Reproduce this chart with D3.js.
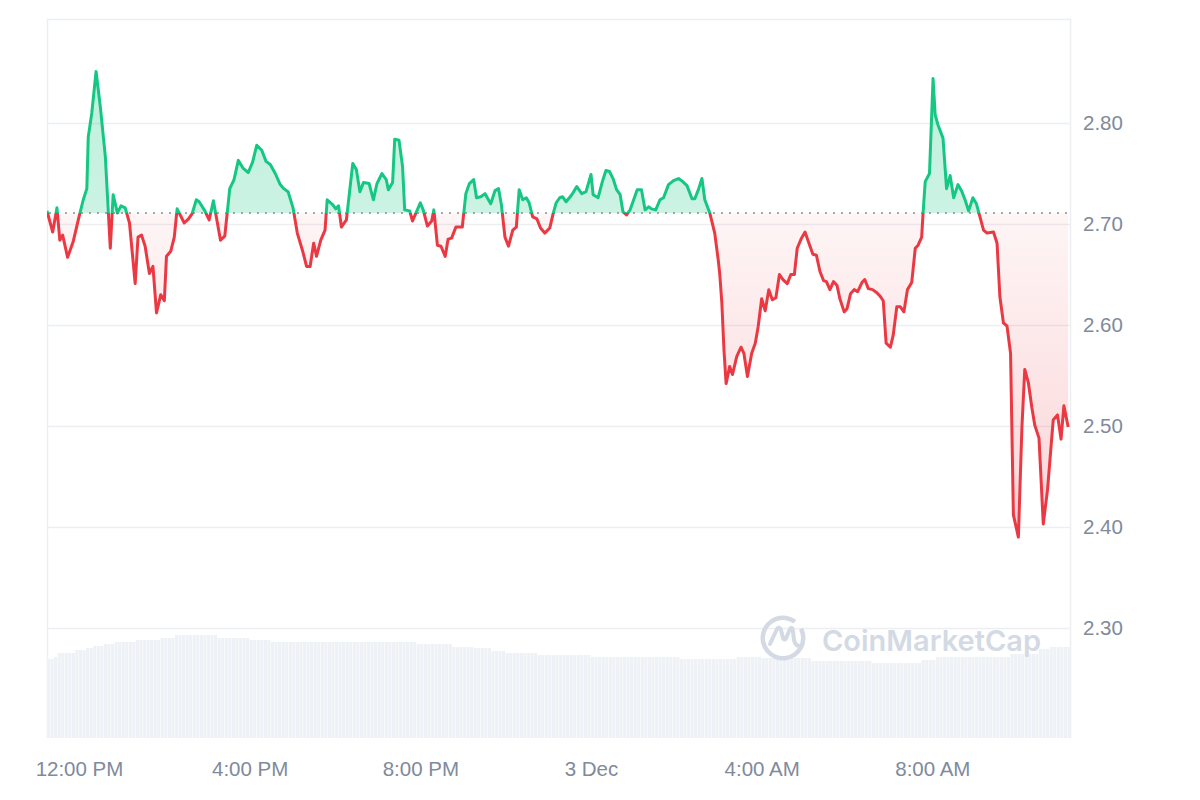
<!DOCTYPE html>
<html>
<head>
<meta charset="utf-8">
<script src="https://cdn.jsdelivr.net/npm/d3@7"></script>
<style>
  html, body { margin: 0; padding: 0; background: #fff; }
  #chart { width: 1200px; height: 800px; }
  .axis-label { font-family: "Liberation Sans", Arial, sans-serif; font-size: 20.5px; fill: #808a9d; }
</style>
</head>
<body>
<div id="chart"></div>
<script>
  // minutes after 11:15 AM, 2 Dec
  const priceMinutes = [
    0, 8, 14, 18, 22, 29, 37, 45, 51, 56, 58, 63, 69, 75, 82, 89, 93, 99, 104, 110,
    116, 124, 128, 133, 138, 144, 149, 154, 160, 165, 168, 174, 179, 183, 193, 199, 204, 210, 214, 222,
    228, 234, 244, 250, 257, 263, 269, 276, 283, 289, 295, 302, 308, 314, 321, 328, 333, 339, 346, 352,
    360, 365, 370, 375, 379, 385, 391, 394, 402, 406, 410, 414, 421, 430, 435, 440, 445, 453, 459, 464,
    471, 477, 480, 486, 489, 495, 500, 503, 510, 514, 525, 529, 535, 541, 544, 549, 554, 560, 564, 569,
    575, 584, 589, 594, 600, 604, 610, 616, 624, 630, 635, 639, 644, 649, 655, 660, 664, 669, 674, 678,
    683, 689, 694, 700, 707, 712, 716, 721, 725, 730, 738, 745, 752, 758, 765, 768, 775, 781, 786, 791,
    796, 801, 806, 810, 815, 820, 825, 830, 836, 841, 846, 850, 856, 862, 867, 874, 881, 888, 894, 900,
    907, 911, 916, 921, 925, 932, 939, 944, 946, 949, 952, 955, 960, 964, 970, 976, 980, 985, 991, 996,
    1000, 1005, 1010, 1015, 1020, 1025, 1030, 1035, 1041, 1046, 1051, 1055, 1061, 1066, 1071, 1077, 1082, 1087, 1092, 1096,
    1101, 1106, 1111, 1115, 1121, 1125, 1130, 1135, 1140, 1146, 1150, 1155, 1161, 1167, 1171, 1176, 1180, 1186, 1190, 1195,
    1200, 1205, 1210, 1216, 1221, 1225, 1230, 1232, 1235, 1241, 1246, 1249, 1253, 1260, 1265, 1270, 1275, 1281, 1286, 1291,
    1296, 1302, 1307, 1312, 1317, 1322, 1331, 1336, 1340, 1345, 1350, 1355, 1359, 1366, 1371, 1375, 1380, 1385, 1389, 1395,
    1401, 1407, 1415, 1421, 1426, 1430, 1436
  ];

  const prices = [
    2.713, 2.692, 2.716, 2.684, 2.689, 2.667, 2.683, 2.707, 2.724, 2.735, 2.786, 2.810, 2.851, 2.816, 2.767, 2.676, 2.729, 2.711, 2.718, 2.716,
    2.701, 2.641, 2.687, 2.689, 2.678, 2.651, 2.658, 2.612, 2.630, 2.624, 2.668, 2.673, 2.687, 2.715, 2.701, 2.705, 2.710, 2.724, 2.722, 2.713,
    2.704, 2.723, 2.684, 2.688, 2.735, 2.744, 2.763, 2.755, 2.751, 2.761, 2.778, 2.773, 2.762, 2.759, 2.750, 2.739, 2.735, 2.732, 2.716, 2.691,
    2.672, 2.658, 2.658, 2.681, 2.668, 2.684, 2.694, 2.724, 2.719, 2.715, 2.718, 2.697, 2.704, 2.760, 2.754, 2.732, 2.741, 2.740, 2.724, 2.740,
    2.750, 2.744, 2.734, 2.741, 2.784, 2.783, 2.757, 2.714, 2.713, 2.703, 2.721, 2.714, 2.698, 2.703, 2.714, 2.679, 2.678, 2.668, 2.685, 2.686,
    2.697, 2.697, 2.730, 2.740, 2.744, 2.726, 2.727, 2.730, 2.720, 2.733, 2.735, 2.719, 2.687, 2.678, 2.694, 2.697, 2.734, 2.724, 2.726, 2.721,
    2.707, 2.705, 2.696, 2.691, 2.696, 2.711, 2.721, 2.726, 2.727, 2.722, 2.729, 2.737, 2.730, 2.732, 2.749, 2.729, 2.726, 2.742, 2.753, 2.752,
    2.745, 2.734, 2.729, 2.712, 2.709, 2.714, 2.724, 2.734, 2.734, 2.714, 2.717, 2.715, 2.714, 2.724, 2.726, 2.739, 2.743, 2.745, 2.742, 2.738,
    2.725, 2.725, 2.734, 2.745, 2.724, 2.711, 2.691, 2.664, 2.651, 2.622, 2.575, 2.542, 2.559, 2.551, 2.569, 2.578, 2.572, 2.549, 2.572, 2.582,
    2.598, 2.626, 2.614, 2.635, 2.625, 2.627, 2.650, 2.645, 2.641, 2.650, 2.650, 2.676, 2.686, 2.692, 2.682, 2.670, 2.669, 2.653, 2.644, 2.643,
    2.635, 2.643, 2.639, 2.626, 2.613, 2.616, 2.631, 2.635, 2.633, 2.642, 2.645, 2.636, 2.635, 2.632, 2.629, 2.624, 2.582, 2.578, 2.590, 2.618,
    2.618, 2.613, 2.635, 2.642, 2.676, 2.679, 2.687, 2.711, 2.742, 2.750, 2.844, 2.808, 2.798, 2.785, 2.735, 2.748, 2.726, 2.739, 2.733, 2.724,
    2.713, 2.726, 2.720, 2.707, 2.694, 2.691, 2.692, 2.681, 2.628, 2.602, 2.599, 2.572, 2.412, 2.390, 2.499, 2.556, 2.543, 2.518, 2.501, 2.488,
    2.403, 2.437, 2.506, 2.511, 2.487, 2.520, 2.499
  ];

  // one bar per 5 minutes, relative volume
  const volumes = [
    79, 79, 81, 85, 85, 85, 85, 85, 88, 88, 88, 90, 90, 92, 92, 92, 94, 94, 94, 96, 96, 96, 96, 96,
    96, 98, 98, 98, 98, 98, 98, 98, 100, 100, 100, 100, 103, 103, 103, 103, 103, 103, 103, 103, 103, 103, 103, 103,
    100, 100, 100, 100, 100, 100, 100, 100, 100, 98, 98, 98, 98, 98, 98, 96, 96, 96, 96, 96, 96, 96, 96, 96,
    96, 96, 96, 96, 96, 96, 96, 96, 96, 96, 96, 96, 96, 96, 96, 96, 96, 96, 96, 96, 96, 96, 96, 96,
    96, 96, 96, 96, 96, 96, 96, 96, 94, 94, 94, 94, 94, 94, 94, 94, 94, 94, 91, 91, 91, 91, 91, 91,
    90, 90, 90, 90, 90, 87, 87, 87, 87, 85, 85, 85, 85, 85, 85, 85, 85, 85, 83, 83, 83, 83, 83, 83,
    83, 83, 83, 83, 83, 83, 83, 83, 83, 81, 81, 81, 81, 81, 81, 81, 81, 81, 81, 81, 81, 81, 81, 81,
    81, 81, 81, 81, 81, 81, 81, 81, 81, 81, 79, 79, 79, 79, 79, 79, 79, 79, 79, 79, 79, 79, 79, 79,
    79, 79, 81, 81, 81, 81, 81, 81, 81, 80, 80, 80, 80, 80, 80, 80, 80, 80, 80, 80, 80, 80, 80, 77,
    77, 77, 77, 77, 77, 77, 77, 77, 77, 77, 77, 77, 77, 77, 77, 77, 75, 75, 75, 75, 75, 75, 75, 75,
    75, 75, 75, 75, 75, 75, 78, 78, 78, 78, 81, 81, 81, 81, 81, 81, 81, 81, 81, 81, 81, 81, 81, 81,
    81, 81, 81, 81, 81, 81, 81, 84, 84, 84, 84, 84, 84, 84, 84, 89, 89, 89, 91, 91, 91, 91, 91, 91
  ];

  const yTicks = [2.30, 2.40, 2.50, 2.60, 2.70, 2.80];
  const xTickHours = [12, 16, 20, 24, 28, 32];
  const xTickLabels = ['12:00 PM', '4:00 PM', '8:00 PM', '3 Dec', '4:00 AM', '8:00 AM'];
  const openPrice = 2.711;

  (() => {
    const width = 1200;
    const height = 800;
    const plotLeft = 47;
    const plotRight = 1071;
    const plotTop = 19;
    const plotBottom = 738;
    const green = '#16c784';
    const red = '#ea3943';
    const gridColor = '#eceef1';

    const startTime = new Date(2024, 11, 2, 11, 15);
    const endTime = new Date(startTime.getTime() + 24 * 3600 * 1000);
    const minuteToDate = m => new Date(startTime.getTime() + m * 60000);

    const series = priceMinutes.map((m, i) => ({ date: minuteToDate(m), price: prices[i] }));

    const x = d3.scaleTime().domain([startTime, endTime]).range([plotLeft, plotRight]);
    const y = d3.scaleLinear().domain([2.30, 2.80]).range([628, 123]);
    const yVol = d3.scaleLinear().domain([0, 100]).range([plotBottom, plotBottom - 100]);

    const svg = d3.select('#chart').append('svg')
      .attr('width', width)
      .attr('height', height);

    const defs = svg.append('defs');
    const baseY = y(openPrice);

    defs.append('clipPath').attr('id', 'clip-above')
      .append('rect').attr('x', plotLeft).attr('y', 0).attr('width', plotRight - plotLeft).attr('height', baseY);
    defs.append('clipPath').attr('id', 'clip-below')
      .append('rect').attr('x', plotLeft).attr('y', baseY).attr('width', plotRight - plotLeft).attr('height', height - baseY);

    const gUp = defs.append('linearGradient').attr('id', 'grad-up')
      .attr('gradientUnits', 'userSpaceOnUse')
      .attr('x1', 0).attr('x2', 0).attr('y1', y(2.85)).attr('y2', baseY);
    gUp.append('stop').attr('offset', '0%').attr('stop-color', green).attr('stop-opacity', 0.28);
    gUp.append('stop').attr('offset', '100%').attr('stop-color', green).attr('stop-opacity', 0.22);

    const gDown = defs.append('linearGradient').attr('id', 'grad-down')
      .attr('gradientUnits', 'userSpaceOnUse')
      .attr('x1', 0).attr('x2', 0).attr('y1', baseY).attr('y2', y(2.38));
    gDown.append('stop').attr('offset', '0%').attr('stop-color', red).attr('stop-opacity', 0.05);
    gDown.append('stop').attr('offset', '100%').attr('stop-color', red).attr('stop-opacity', 0.22);

    // frame
    svg.append('line').attr('x1', plotLeft).attr('x2', plotRight).attr('y1', plotTop + 0.5).attr('y2', plotTop + 0.5)
      .attr('stroke', gridColor).attr('stroke-width', 1.5);
    svg.append('line').attr('x1', plotLeft + 0.5).attr('x2', plotLeft + 0.5).attr('y1', plotTop).attr('y2', plotBottom)
      .attr('stroke', gridColor).attr('stroke-width', 1.5);
    svg.append('line').attr('x1', plotRight - 0.5).attr('x2', plotRight - 0.5).attr('y1', plotTop).attr('y2', plotBottom)
      .attr('stroke', gridColor).attr('stroke-width', 1.5);

    // grid
    svg.append('g').selectAll('line')
      .data(yTicks)
      .join('line')
      .attr('x1', plotLeft)
      .attr('x2', plotRight)
      .attr('y1', d => Math.round(y(d)) + 0.5)
      .attr('y2', d => Math.round(y(d)) + 0.5)
      .attr('stroke', gridColor)
      .attr('stroke-width', 1.5);

    // volume bars
    const step = (plotRight - plotLeft) / volumes.length;
    svg.append('g').selectAll('rect')
      .data(volumes)
      .join('rect')
      .attr('x', (d, i) => x(minuteToDate(i * 5)))
      .attr('width', step - 0.5)
      .attr('y', d => yVol(d))
      .attr('height', d => plotBottom - yVol(d))
      .attr('fill', '#eef1f5');

    // watermark
    const wm = svg.append('g').attr('transform', 'translate(783, 638)');
    wm.append('path')
      .attr('d', d3.arc()({ innerRadius: 18, outerRadius: 22.5, startAngle: 0.35 * Math.PI, endAngle: 2.2 * Math.PI }))
      .attr('fill', '#d3dae4');
    wm.append('path')
      .attr('d', 'M-13,6 L-6,-9 Q-4,-12 -2,-8 L0,0 Q2,4 4,-2 L7,-9 Q9,-12 10,-7 L11,2 Q13,10 19,7')
      .attr('fill', 'none')
      .attr('stroke', '#d3dae4')
      .attr('stroke-width', 4)
      .attr('stroke-linecap', 'round')
      .attr('stroke-linejoin', 'round');
    svg.append('text')
      .attr('x', 822)
      .attr('y', 651)
      .attr('font-family', 'Inter, "Noto Sans", sans-serif')
      .attr('font-weight', 600)
      .attr('font-size', 29)
      .attr('fill', '#d3dae4')
      .text('CoinMarketCap');

    // price areas and lines
    const area = d3.area()
      .x(d => x(d.date))
      .y0(baseY)
      .y1(d => y(d.price));
    const line = d3.line()
      .x(d => x(d.date))
      .y(d => y(d.price));

    svg.append('path').datum(series)
      .attr('d', area)
      .attr('fill', 'url(#grad-up)')
      .attr('clip-path', 'url(#clip-above)');
    svg.append('path').datum(series)
      .attr('d', area)
      .attr('fill', 'url(#grad-down)')
      .attr('clip-path', 'url(#clip-below)');

    svg.append('line')
      .attr('x1', plotLeft + 2).attr('x2', plotRight)
      .attr('y1', baseY).attr('y2', baseY)
      .attr('stroke', '#8c8c8c')
      .attr('stroke-width', 1.5)
      .attr('stroke-dasharray', '2 6');

    svg.append('path').datum(series)
      .attr('d', line)
      .attr('fill', 'none')
      .attr('stroke', green)
      .attr('stroke-width', 3)
      .attr('stroke-linejoin', 'round')
      .attr('clip-path', 'url(#clip-above)');
    svg.append('path').datum(series)
      .attr('d', line)
      .attr('fill', 'none')
      .attr('stroke', red)
      .attr('stroke-width', 3)
      .attr('stroke-linejoin', 'round')
      .attr('clip-path', 'url(#clip-below)');

    // axes
    const xAxis = d3.axisBottom(x)
      .tickValues(xTickHours.map(h => new Date(2024, 11, 2, h, 0)))
      .tickFormat((d, i) => xTickLabels[i])
      .tickSize(0)
      .tickPadding(23);
    svg.append('g')
      .attr('transform', `translate(0,${plotBottom})`)
      .call(xAxis)
      .call(g => g.select('.domain').remove())
      .call(g => g.selectAll('text').attr('class', 'axis-label').attr('fill', null));

    const yAxis = d3.axisRight(y)
      .tickValues(yTicks)
      .tickFormat(d3.format('.2f'))
      .tickSize(0)
      .tickPadding(12);
    svg.append('g')
      .attr('transform', `translate(${plotRight},0)`)
      .call(yAxis)
      .call(g => g.select('.domain').remove())
      .call(g => g.selectAll('text').attr('class', 'axis-label').attr('fill', null));
  })();
</script>
</body>
</html>
